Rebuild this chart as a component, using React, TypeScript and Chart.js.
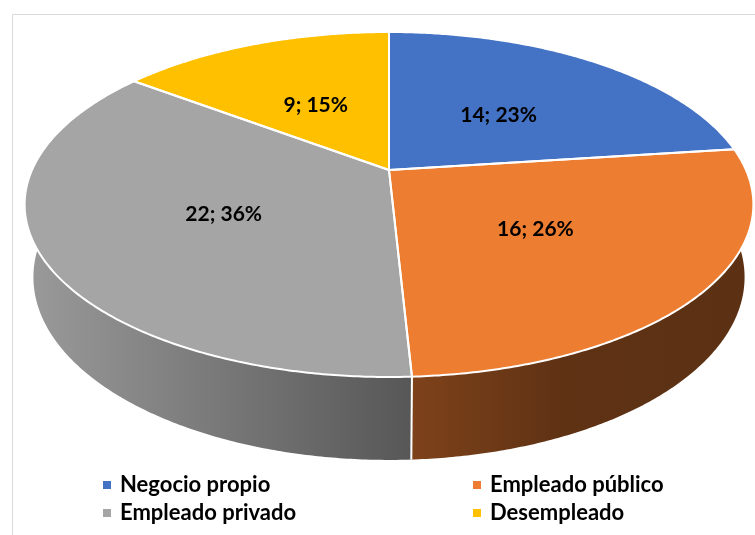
import React, { useEffect, useRef } from 'react';
import { Chart, registerables } from 'chart.js';
Chart.register(...registerables);

const categories = ['Negocio propio', 'Empleado público', 'Empleado privado', 'Desempleado'];
const values = [14, 16, 22, 9];
const colors = ['#4472C4', '#ED7D31', '#A5A5A5', '#FFC000'];

const SIN_T = 0.46;
const COS_T = Math.sqrt(1 - SIN_T * SIN_T);
const RHO = 0.2253;
const ETA = 0.229;

function rgb(hex: string) {
  const n = parseInt(hex.slice(1), 16);
  return [(n >> 16) & 255, (n >> 8) & 255, n & 255];
}
function shade(hex: string, f: number) {
  const [r, g, b] = rgb(hex);
  return `rgb(${Math.round(r * f)},${Math.round(g * f)},${Math.round(b * f)})`;
}

const pie3d = {
  id: 'pie3d',
  beforeDatasetsDraw(chart: any) {
    const meta = chart.getDatasetMeta(0);
    const arcs = meta.data;
    if (!arcs.length) return false;
    const ctx: CanvasRenderingContext2D = chart.ctx;
    const cx = arcs[0].x, cy = arcs[0].y, R = arcs[0].outerRadius;
    const A = (R * 357) / 170;
    const topP = (u: number, w: number) => {
      const D = 1 + RHO * COS_T * w;
      return [cx + (A * u) / D, cy - (A * 1.0084 * SIN_T * w) / D];
    };
    const top = (a: number) => topP(Math.cos(a), -Math.sin(a));
    const bot = (a: number) => {
      const u = Math.cos(a), w = -Math.sin(a);
      const D = 1 + ETA * RHO * SIN_T + RHO * COS_T * w;
      return [cx + (A * u) / D, cy + (A * 1.0084 * (ETA * COS_T - w * SIN_T)) / D];
    };
    const samples = (s: number, e: number) => {
      const n = Math.max(2, Math.ceil((e - s) / (Math.PI / 360)));
      const out: number[] = [];
      for (let i = 0; i <= n; i++) out.push(s + ((e - s) * i) / n);
      return out;
    };
    const bg = chart.data.datasets[0].backgroundColor;
    ctx.save();
    // walls
    arcs.forEach((arc: any, i: number) => {
      const ang = samples(arc.startAngle, arc.endAngle);
      const g = ctx.createLinearGradient(cx - 1.03 * A, 0, cx + 1.03 * A, 0);
      g.addColorStop(0, shade(bg[i], 0.94));
      g.addColorStop(0.53, shade(bg[i], 0.53));
      g.addColorStop(0.735, shade(bg[i], 0.4));
      g.addColorStop(1, shade(bg[i], 0.39));
      ctx.beginPath();
      ang.forEach((a, k) => {
        const p = top(a);
        if (k === 0) ctx.moveTo(p[0], p[1]);
        else ctx.lineTo(p[0], p[1]);
      });
      for (let k = ang.length - 1; k >= 0; k--) {
        const p = bot(ang[k]);
        ctx.lineTo(p[0], p[1]);
      }
      ctx.closePath();
      ctx.fillStyle = g;
      ctx.fill();
    });
    // wall separators (front-facing boundaries)
    ctx.strokeStyle = '#ffffff';
    ctx.lineWidth = 2;
    arcs.forEach((arc: any) => {
      const a = arc.startAngle;
      if (-Math.sin(a) < -0.2) {
        const p = top(a), q = bot(a);
        ctx.beginPath();
        ctx.moveTo(p[0], p[1]);
        ctx.lineTo(q[0], q[1]);
        ctx.stroke();
      }
    });
    // top faces
    ctx.lineJoin = 'round';
    arcs.forEach((arc: any, i: number) => {
      const ang = samples(arc.startAngle, arc.endAngle);
      ctx.beginPath();
      ctx.moveTo(cx, cy);
      ang.forEach((a) => {
        const p = top(a);
        ctx.lineTo(p[0], p[1]);
      });
      ctx.closePath();
      ctx.fillStyle = bg[i];
      ctx.fill();
    });
    arcs.forEach((arc: any) => {
      const ang = samples(arc.startAngle, arc.endAngle);
      ctx.beginPath();
      ctx.moveTo(cx, cy);
      ang.forEach((a) => {
        const p = top(a);
        ctx.lineTo(p[0], p[1]);
      });
      ctx.closePath();
      ctx.stroke();
    });
    // labels
    const total = values.reduce((s, v) => s + v, 0);
    ctx.fillStyle = '#000000';
    ctx.font = 'bold 21px Lato';
    ctx.textAlign = 'center';
    ctx.textBaseline = 'middle';
    arcs.forEach((arc: any, i: number) => {
      const mid = (arc.startAngle + arc.endAngle) / 2;
      const p = topP(0.5 * Math.cos(mid), -0.5 * Math.sin(mid));
      const v = chart.data.datasets[0].data[i];
      ctx.fillText(`${v}; ${Math.round((v / total) * 100)}%`, p[0], p[1] + 3);
    });
    ctx.restore();
    return false;
  },
  afterDraw(chart: any) {
    const ctx: CanvasRenderingContext2D = chart.ctx;
    ctx.save();
    ctx.strokeStyle = '#D9D9D9';
    ctx.lineWidth = 1;
    ctx.beginPath();
    ctx.moveTo(12.5, 600);
    ctx.lineTo(12.5, 14.5);
    ctx.lineTo(800, 14.5);
    ctx.stroke();
    const bg = chart.data.datasets[0].backgroundColor;
    const cols = [103, 473];
    const rows = [485, 513];
    ctx.font = 'bold 22px Lato';
    ctx.textBaseline = 'middle';
    ctx.textAlign = 'left';
    chart.data.labels.forEach((lab: string, i: number) => {
      const x = cols[i % 2], y = rows[Math.floor(i / 2)];
      ctx.fillStyle = bg[i];
      ctx.fillRect(x, y - 4, 8, 8);
      ctx.fillStyle = '#000000';
      ctx.fillText(lab, x + 17, y);
    });
    ctx.restore();
  },
};

export default function App() {
  const ref = useRef<HTMLCanvasElement>(null);
  useEffect(() => {
    document.body.style.margin = '0';
    const chart = new Chart(ref.current!, {
      type: 'pie',
      data: {
        labels: categories,
        datasets: [{ data: values, backgroundColor: colors, borderWidth: 0 }],
      },
      options: {
        responsive: false,
        animation: false,
        layout: { padding: { left: 23, right: 0, top: 0, bottom: 195 } },
        plugins: { legend: { display: false }, tooltip: { enabled: false } },
      },
      plugins: [pie3d],
    });
    return () => chart.destroy();
  }, []);
  return <canvas ref={ref} width={755} height={535} style={{ display: 'block' }} />;
}
